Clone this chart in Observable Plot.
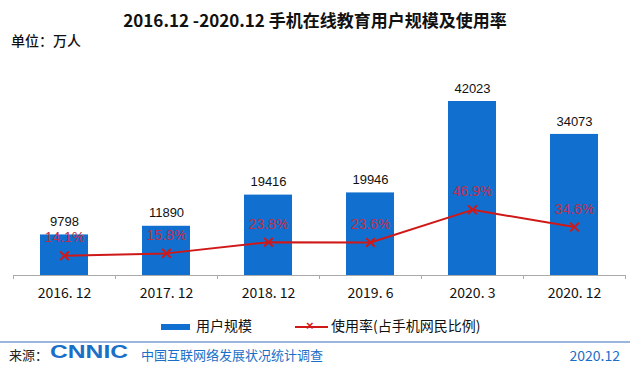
<!DOCTYPE html>
<html><head><meta charset="utf-8">
<script src="https://cdn.jsdelivr.net/npm/d3@7"></script>
<script src="https://cdn.jsdelivr.net/npm/@observablehq/plot@0.6"></script>
<style>
body{margin:0;background:#fff;}
#wrap{position:relative;width:630px;height:368px;overflow:hidden;font-family:"Noto Sans CJK SC","Noto Sans",sans-serif;}
.abs{position:absolute;white-space:nowrap;}
</style></head>
<body><div id="wrap">
<div class="abs" style="left:0;width:630px;top:7px;text-align:center;font-weight:bold;font-size:17px;color:#111;">2016.12 -2020.12 手机在线教育用户规模及使用率</div>
<div class="abs" style="left:11px;top:30px;font-size:14px;font-weight:500;color:#111;">单位：万人</div>
<div id="p1" class="abs" style="left:0;top:0;"></div>
<div id="p2" class="abs" style="left:0;top:0;"></div>
<div class="abs" style="left:161px;top:315px;font-size:14px;color:#111;"><span style="display:inline-block;width:29px;height:6px;background:#1170cf;vertical-align:middle;margin-right:6px;"></span>用户规模</div>
<div class="abs" style="left:295px;top:315px;font-size:14px;color:#111;"><span style="display:inline-block;position:relative;width:33px;height:2px;background:#d01818;vertical-align:middle;margin-right:3px;"><span style="position:absolute;left:11px;top:-8px;color:#d01818;font:bold 13px/16px 'Liberation Sans',Arial;">×</span></span>使用率(占手机网民比例)</div>
<div class="abs" style="left:0;top:341px;width:630px;height:2px;background:#9ab6de;"></div>
<div class="abs" style="left:9px;top:345px;font-size:13px;color:#222;">来源：</div>
<div class="abs" style="left:50px;top:343px;font:bold 17px/20px 'Liberation Sans',Arial;color:#1a6fc8;transform:scale(1.45,1.05);transform-origin:0 50%;">CNNIC</div>
<div class="abs" style="left:141px;top:345px;font-size:13px;color:#1a6fc8;">中国互联网络发展状况统计调查</div>
<div class="abs" style="right:10px;top:345px;font-size:14px;color:#1a6fc8;">2020.12</div>
</div>
<script>
const categories = ["2016. 12","2017. 12","2018. 12","2019. 6","2020. 3","2020. 12"];
const users = [9798, 11890, 19416, 19946, 42023, 34073];
const rates = [14.1, 15.8, 23.8, 23.6, 46.9, 34.6];
const rateLabels = ["14.1%","15.8%","23.8%","23.6%","46.9%","34.6%"];

const barData = categories.map((c,i)=>({c, v: users[i]}));
const rateData = categories.map((c,i)=>({c, r: rates[i], label: rateLabels[i]}));

const W=630, H=310, mT=50, mB=35, mL=13, mR=5;
const xOpts = {domain: categories, paddingInner: 0.53, paddingOuter: 0.265, label: null};

const p1 = Plot.plot({
  width: W, height: H, marginTop: mT, marginBottom: mB, marginLeft: mL, marginRight: mR,
  style: {background: "transparent", fontFamily: "Liberation Sans, Arial, sans-serif", overflow: "visible"},
  x: {...xOpts, axis: null},
  y: {domain: [0, 54340], axis: null},
  marks: [
    Plot.barY(barData, {x: "c", y: "v", fill: "#1170cf"}),
    Plot.text(barData, {x: "c", y: "v", text: d=>String(d.v), dy: -13, fontSize: 13, fill: "#111"}),
    Plot.ruleY([0], {stroke: "#aaa", strokeWidth: 1}),
    Plot.ruleX(categories, {x: d=>d, y1: 0, y2: 0, dx: -51, insetBottom: -4, stroke: "#aaa"}),
    Plot.ruleX(categories.slice(-1), {x: d=>d, y1: 0, y2: 0, dx: 51, insetBottom: -4, stroke: "#aaa"}),
    Plot.text(categories, {x: d=>d, y: 0, text: d=>d, dy: 18, fontSize: 14, fill: "#111", fontFamily: "Noto Sans CJK SC"})
  ]
});
document.getElementById("p1").appendChild(p1);

const p2 = Plot.plot({
  width: W, height: H, marginTop: mT, marginBottom: mB, marginLeft: mL, marginRight: mR,
  style: {background: "transparent", fontFamily: "Liberation Sans, Arial, sans-serif", overflow: "visible"},
  x: {...xOpts, axis: null},
  y: {domain: [0, 160.7], axis: null},
  marks: [
    Plot.line(rateData, {x: "c", y: "r", stroke: "#d01818", strokeWidth: 2}),
    Plot.dot(rateData, {x: "c", y: "r", symbol: "times", r: 4, stroke: "#d01818", strokeWidth: 2}),
    Plot.text(rateData, {x: "c", y: "r", text: "label", dy: -18, fontSize: 14, fill: "#b8304a"})
  ]
});
document.getElementById("p2").appendChild(p2);
</script>
</body></html>
